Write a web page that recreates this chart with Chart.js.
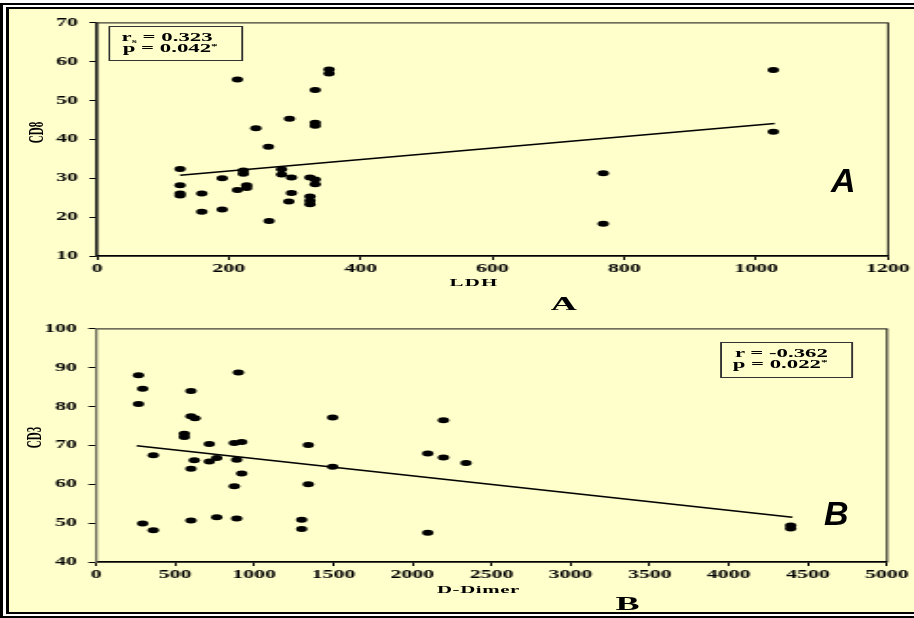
<!DOCTYPE html>
<html>
<head>
<meta charset="utf-8">
<script src="https://cdn.jsdelivr.net/npm/chart.js@4"></script>
<style>
  html, body { margin: 0; padding: 0; background: #fff; overflow: hidden; width: 914px; height: 618px; }
  .outer { position: absolute; left: 0; top: 3px; width: 930px; height: 611px; border-left: 3px solid #000; border-top: 2px solid #000; border-bottom: 2px solid #000; box-sizing: content-box; }
  .inner { position: absolute; left: 6px; top: 7px; width: 930px; height: 603px; border-left: 3px solid #000; border-top: 2px solid #000; border-bottom: 2px solid #000; background: #ffffcc; }
  /* the whole figure is stretched sideways, like the original scan */
  .stretch { position: absolute; left: 0; top: 0; width: 481.05px; height: 618px; transform: scaleX(1.9); transform-origin: 0 0; }
  .stretch canvas { position: absolute; left: 0; }
  .t { position: absolute; font-family: "Liberation Serif", serif; font-weight: bold; color: #000; white-space: nowrap; line-height: 1; }
  .t sub, .t sup { font-size: 7px; line-height: 0; position: relative; vertical-align: baseline; }
  .t sub { top: 2px; }
  .t sup { top: -4px; }
  .box { position: absolute; border: 1.3px solid #333; box-sizing: border-box; }
  .big { position: absolute; font-family: "Liberation Sans", sans-serif; font-weight: bold; font-style: italic; font-size: 34px; line-height: 1; color: #000; }
</style>
</head>
<body>
<div class="outer"></div>
<div class="inner"></div>

<div class="stretch">
  <canvas id="chartA" width="481" height="290" style="top:10px"></canvas>
  <canvas id="chartB" width="481" height="290" style="top:316px"></canvas>

  <!-- panel A texts -->
  <div class="box" style="left:57px;top:26px;width:71.4px;height:34.7px"></div>
  <div class="t" style="left:64px;top:30.5px;font-size:12px">r<sub>s</sub> = 0.323</div>
  <div class="t" style="left:64.6px;top:42px;font-size:12px">p = 0.042<sup>*</sup></div>
  <div class="t" style="left:1px;top:127px;width:36px;text-align:center;font-size:11px;transform:rotate(-90deg)">CD8</div>
  <div class="t" style="left:199.5px;top:277px;width:100px;text-align:center;font-size:11px;letter-spacing:0.7px">LDH</div>
  <div class="t" style="left:246.8px;top:293.7px;width:100px;text-align:center;font-size:19px">A</div>

  <!-- panel B texts -->
  <div class="box" style="left:378.9px;top:342.3px;width:70.6px;height:35.4px"></div>
  <div class="t" style="left:386.8px;top:346.5px;font-size:12px">r = -0.362</div>
  <div class="t" style="left:385.6px;top:358px;font-size:12px">p = 0.022<sup>*</sup></div>
  <div class="t" style="left:-0.4px;top:432px;width:36px;text-align:center;font-size:11px;transform:rotate(-90deg)">CD3</div>
  <div class="t" style="left:201.8px;top:584px;width:100px;text-align:center;font-size:11px;letter-spacing:0.3px">D-Dimer</div>
  <div class="t" style="left:280.3px;top:593.7px;width:100px;text-align:center;font-size:19px">B</div>
</div>

<div class="big" style="left:831px;top:162.6px">A</div>
<div class="big" style="left:824px;top:495.6px">B</div>

<script>
// panel A: LDH vs CD8
const ldh = [126, 126, 126, 126, 159, 159, 190, 190, 213, 213, 222, 222, 227, 227, 241, 260, 261,
             280, 280, 292, 295, 295, 291, 323, 323, 323, 323, 331, 331, 331, 331, 331, 352, 352,
             768, 768, 1026, 1026];
const cd8 = [32.4, 28.2, 25.6, 26.1, 26.1, 21.4, 30.0, 22.0, 55.4, 27.0, 31.2, 32.0, 27.5, 28.2, 42.9, 38.1, 19.0,
             32.3, 31.0, 45.3, 30.2, 26.2, 24.0, 30.2, 25.3, 23.3, 24.2, 52.7, 43.5, 44.3, 29.7, 28.5, 57.0, 58.0,
             31.3, 18.3, 57.9, 42.0];
const fitLdh = [126, 1028];
const fitCd8 = [30.8, 44.1];

// panel B: D-Dimer vs CD3
const dDimer = [268, 295, 268, 295, 362, 362, 558, 558, 600, 600, 626, 621, 600, 600, 716, 716, 763, 763,
                900, 874, 921, 889, 921, 874, 889, 1300, 1300, 1342, 1342, 1496, 1496, 2097, 2097,
                2196, 2196, 2339, 4391, 4391];
const cd3 = [88.1, 84.6, 80.7, 49.9, 67.5, 48.2, 72.2, 73.0, 84.0, 77.5, 77.0, 66.2, 64.0, 50.7, 70.4, 65.9, 66.8, 51.5,
             88.8, 70.6, 70.9, 66.3, 62.8, 59.5, 51.2, 50.9, 48.5, 70.1, 60.0, 77.2, 64.5, 67.9, 47.5,
             76.5, 66.9, 65.5, 48.6, 49.4];
const fitDd = [257, 4402];
const fitCd3 = [69.9, 51.5];

const xTicksA = { min: 0, max: 1200, step: 200 };
const yTicksA = { min: 10, max: 70, step: 10 };
const xTicksB = { min: 0, max: 5000, step: 500 };
const yTicksB = { min: 40, max: 100, step: 10 };

const tickFont = { family: 'Liberation Serif', weight: 'bold', size: 11.5 };

// thin frame on top and right of the plot area
const frame = {
    id: 'frame',
    beforeDraw(chart) {
        const { ctx, chartArea: a } = chart;
        ctx.save();
        ctx.strokeStyle = '#111';
        ctx.lineWidth = 1;
        ctx.strokeRect(a.left, a.top, a.right - a.left, a.bottom - a.top);
        ctx.restore();
    }
};

function makeChart(id, xs, ys, fx, fy, xt, yt, yAxisWidth, rightPad, yAxisColor) {
    return new Chart(document.getElementById(id), {
        type: 'scatter',
        data: {
            datasets: [
                {
                    data: xs.map((v, i) => ({ x: v, y: ys[i] })),
                    backgroundColor: '#000',
                    borderWidth: 0,
                    pointRadius: 3
                },
                {
                    data: fx.map((v, i) => ({ x: v, y: fy[i] })),
                    showLine: true,
                    borderColor: '#000',
                    borderWidth: 1.5,
                    pointRadius: 0,
                    fill: false
                }
            ]
        },
        options: {
            responsive: false,
            animation: false,
            layout: { padding: { top: 10, right: rightPad, left: 0, bottom: 0 } },
            plugins: { legend: { display: false }, tooltip: { enabled: false } },
            scales: {
                x: {
                    type: 'linear',
                    min: xt.min, max: xt.max,
                    ticks: { stepSize: xt.step, autoSkip: false, maxRotation: 0, padding: 2, color: '#000', font: tickFont,
                             callback: (v) => String(v) },
                    grid: { drawOnChartArea: false, tickLength: 4, color: '#000', lineWidth: 1 },
                    border: { color: '#000', width: 1.5 },
                    afterFit: (s) => { s.height = 44; }
                },
                y: {
                    type: 'linear',
                    min: yt.min, max: yt.max,
                    ticks: { stepSize: yt.step, autoSkip: false, padding: 6, color: '#000', font: tickFont,
                             callback: (v) => String(v) },
                    grid: { drawOnChartArea: false, tickLength: 4, color: '#000', lineWidth: 1 },
                    border: { color: yAxisColor, width: 1.3 },
                    afterFit: (s) => { s.width = yAxisWidth; }
                }
            }
        },
        plugins: [frame]
    });
}

makeChart('chartA', ldh, cd8, fitLdh, fitCd8, xTicksA, yTicksA, 51.05, 13.63, '#222');
makeChart('chartB', dDimer, cd3, fitDd, fitCd3, xTicksB, yTicksB, 50.53, 14.16, '#6b6b5b');
</script>
</body>
</html>
